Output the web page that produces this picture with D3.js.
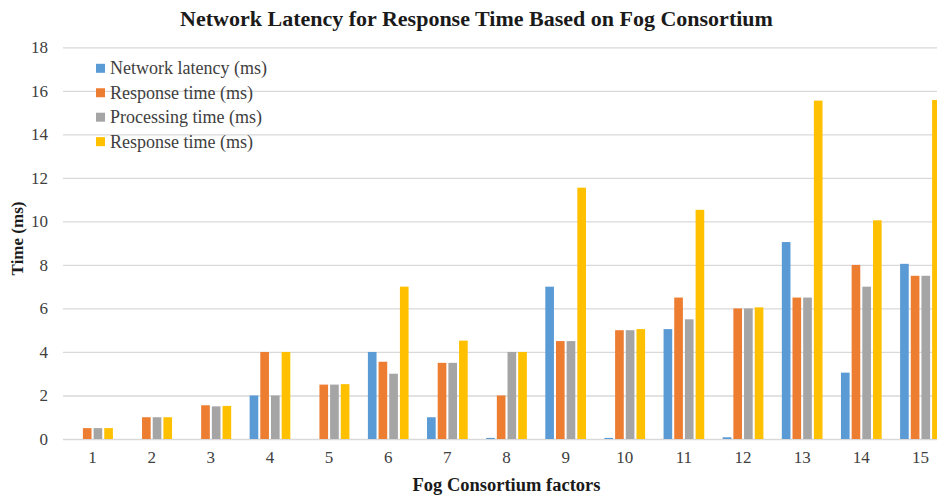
<!DOCTYPE html>
<html>
<head>
<meta charset="utf-8">
<script src="https://cdn.jsdelivr.net/npm/d3@7/dist/d3.min.js"></script>
<style>
  html, body { margin: 0; padding: 0; background: #fff; }
  svg { display: block; }
  svg text { font-family: "Liberation Serif", "Times New Roman", serif !important; }
</style>
</head>
<body>
<svg id="chart" width="937" height="495"></svg>
<script>
// Fog consortium factors along the x axis
const categories = ["1","2","3","4","5","6","7","8","9","10","11","12","13","14","15"];

// Series names as shown in the legend
const seriesNames = ["Network latency (ms)", "Response time (ms)", "Processing time (ms)", "Response time (ms)"];
const seriesColors = ["#5B9BD5", "#ED7D31", "#A5A5A5", "#FFC000"];

// Values (ms) for each factor
const networkLatency = [0, 0, 0, 2, 0, 4, 1, 0.05, 7, 0.05, 5.05, 0.08, 9.05, 3.05, 8.05];
const responseTimeA  = [0.5, 1, 1.55, 4, 2.5, 3.55, 3.5, 2, 4.5, 5, 6.5, 6, 6.5, 8, 7.5];
const processingTime = [0.5, 1, 1.5, 2, 2.5, 3, 3.5, 4, 4.5, 5, 5.5, 6, 6.5, 7, 7.5];
const responseTimeB  = [0.5, 1, 1.52, 4, 2.52, 7, 4.52, 4, 11.55, 5.05, 10.53, 6.05, 15.55, 10.05, 15.58];

const yTicks = [0, 2, 4, 6, 8, 10, 12, 14, 16, 18];

const seriesValues = [networkLatency, responseTimeA, processingTime, responseTimeB];

const FONT = "'Liberation Serif', 'Times New Roman', serif";

const svg = d3.select("#chart");

const plot = { left: 63, right: 950, top: 47.3, bottom: 439 };

const x0 = d3.scaleBand()
  .domain(categories)
  .range([plot.left, plot.right])
  .padding(0);

const groupInset = x0.bandwidth() * 0.156;
const x1 = d3.scaleBand()
  .domain(d3.range(seriesValues.length))
  .range([groupInset, x0.bandwidth() - groupInset])
  .paddingInner(0.19)
  .paddingOuter(0);

const y = d3.scaleLinear()
  .domain([0, 18])
  .range([plot.bottom, plot.top]);

// Horizontal gridlines with value labels
const yAxis = svg.append("g")
  .attr("transform", `translate(${plot.left},0)`)
  .call(d3.axisLeft(y)
    .tickValues(yTicks)
    .tickSize(-(plot.right - plot.left))
    .tickPadding(15)
    .tickFormat(d3.format("d")));
yAxis.attr("font-family", FONT);
yAxis.select(".domain").remove();
yAxis.selectAll(".tick line").attr("stroke", "#d9d9d9").attr("stroke-width", 1.3);
yAxis.selectAll(".tick text")
  .attr("fill", "#404040")
  .style("font-family", FONT)
  .style("font-size", "17px");

// Category labels
const xAxis = svg.append("g")
  .attr("transform", `translate(0,${plot.bottom})`)
  .call(d3.axisBottom(x0).tickSize(0).tickPadding(12));
xAxis.attr("font-family", FONT);
xAxis.select(".domain").remove();
xAxis.selectAll(".tick text")
  .attr("fill", "#404040")
  .style("font-family", FONT)
  .style("font-size", "17px");

// Bars
const groups = svg.append("g")
  .selectAll("g")
  .data(categories)
  .join("g")
  .attr("transform", d => `translate(${x0(d)},0)`);

groups.selectAll("rect")
  .data((c, i) => seriesValues.map((vals, s) => ({ s, v: vals[i] })))
  .join("rect")
  .attr("x", d => x1(d.s))
  .attr("width", x1.bandwidth())
  .attr("y", d => y(d.v))
  .attr("height", d => y(0) - y(d.v))
  .attr("fill", d => seriesColors[d.s]);

// Title
svg.append("text")
  .attr("x", 476.5)
  .attr("y", 26)
  .attr("text-anchor", "middle")
  .attr("font-weight", "bold")
  .attr("fill", "#1a1a1a")
  .style("font-family", FONT)
  .style("font-size", "22px")
  .text("Network Latency for Response Time Based on Fog Consortium");

// Axis titles
svg.append("text")
  .attr("transform", "translate(23,238.5) rotate(-90)")
  .attr("text-anchor", "middle")
  .attr("font-weight", "bold")
  .attr("fill", "#1a1a1a")
  .style("font-family", FONT)
  .style("font-size", "17px")
  .text("Time (ms)");

svg.append("text")
  .attr("x", (plot.left + plot.right) / 2)
  .attr("y", 491)
  .attr("text-anchor", "middle")
  .attr("font-weight", "bold")
  .attr("fill", "#1a1a1a")
  .style("font-family", FONT)
  .style("font-size", "18.5px")
  .text("Fog Consortium factors");

// Legend
const legend = svg.append("g")
  .selectAll("g")
  .data(seriesNames)
  .join("g")
  .attr("transform", (d, i) => `translate(96,${68.3 + i * 24.45})`);

legend.append("rect")
  .attr("x", 0)
  .attr("y", -4.5)
  .attr("width", 9)
  .attr("height", 9)
  .attr("fill", (d, i) => seriesColors[i]);

legend.append("text")
  .attr("x", 14)
  .attr("y", 6)
  .attr("fill", "#404040")
  .style("font-family", FONT)
  .style("font-size", "18px")
  .text(d => d);
</script>
</body>
</html>
